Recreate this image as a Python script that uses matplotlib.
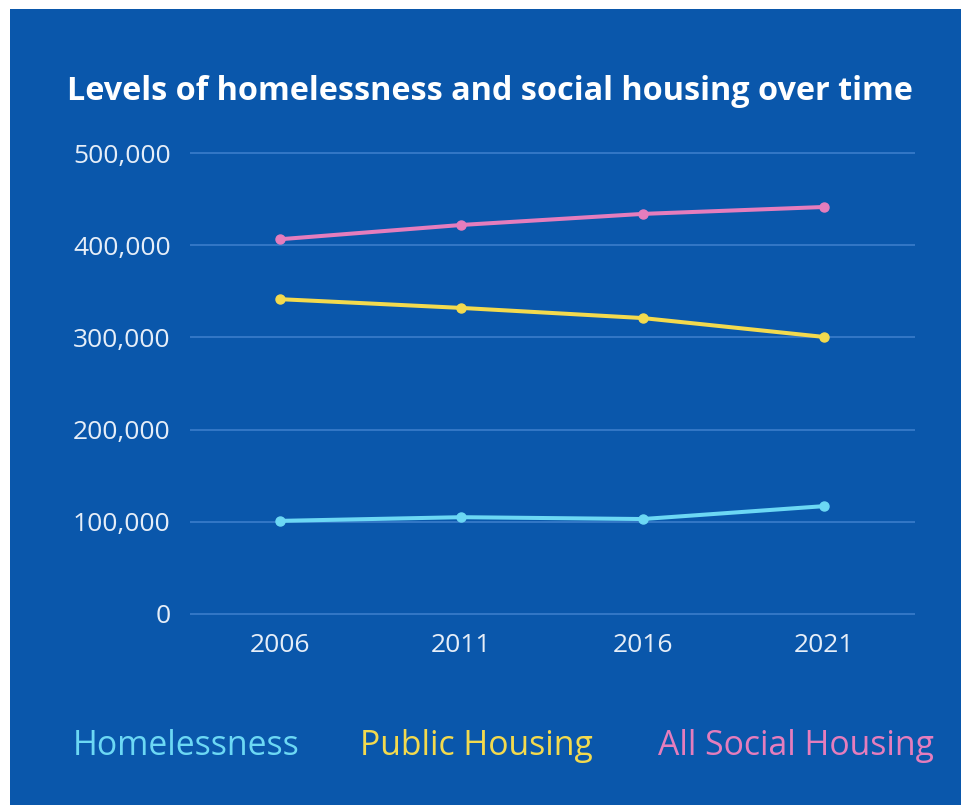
import matplotlib.pyplot as plt
from matplotlib.patches import Rectangle

years = [2006, 2011, 2016, 2021]
homelessness = [101000, 105000, 103000, 117000]
public_housing = [341500, 332000, 321000, 300500]
all_social = [406500, 422000, 434000, 441500]

yticks = [0, 100000, 200000, 300000, 400000, 500000]
ytick_labels = ['0', '100,000', '200,000', '300,000', '400,000', '500,000']

bg = '#0A57AB'
grid_col = '#3B7DCB'
cyan = '#6CD8F4'
yellow = '#F3DA4E'
pink = '#E57DBD'

fig = plt.figure(figsize=(9.61, 8.08), dpi=100)
fig.patch.set_facecolor('white')
fig.patches.append(Rectangle((10/961, 3/808), 1, (805-9)/808, transform=fig.transFigure,
                             facecolor=bg, edgecolor='none', zorder=-5))

ax = fig.add_axes([190/961, 0.2173, (915-190)/961, 0.6161])
ax.set_facecolor('none')
ax.set_zorder(2)

ax.plot(years, homelessness, color=cyan, lw=2.9, marker='o', ms=6.5)
ax.plot(years, public_housing, color=yellow, lw=2.9, marker='o', ms=6.5)
ax.plot(years, all_social, color=pink, lw=2.9, marker='o', ms=6.5)

ax.set_xlim(2003.52, 2023.5)
ax.set_ylim(-20000, 520000)
ax.set_xticks(years)
ax.set_xticklabels([str(y) for y in years])
ax.set_yticks(yticks)
ax.set_yticklabels(ytick_labels)
ax.grid(axis='y', color=grid_col, lw=1.2)
ax.set_axisbelow(True)
for s in ax.spines.values():
    s.set_visible(False)
ax.tick_params(axis='both', length=0, colors='#E6EEF8', labelsize=19)
ax.tick_params(axis='y', pad=14)
ax.tick_params(axis='x', pad=0.5)
for lab in ax.get_xticklabels() + ax.get_yticklabels():
    lab.set_family('Open Sans')

fig.text(490/961, (808-92)/808, 'Levels of homelessness and social housing over time',
         ha='center', va='center', color='white', fontsize=23.3, fontweight='bold', family='Open Sans')

fig.text(73/961, (808-746)/808, 'Homelessness', color=cyan, fontsize=24.3, va='center', family='Open Sans')
fig.text(360/961, (808-746)/808, 'Public Housing', color=yellow, fontsize=24.3, va='center', family='Open Sans')
fig.text(658/961, (808-746)/808, 'All Social Housing', color=pink, fontsize=24.3, va='center', family='Open Sans')

fig.savefig('out.png', dpi=100, facecolor=fig.get_facecolor())
